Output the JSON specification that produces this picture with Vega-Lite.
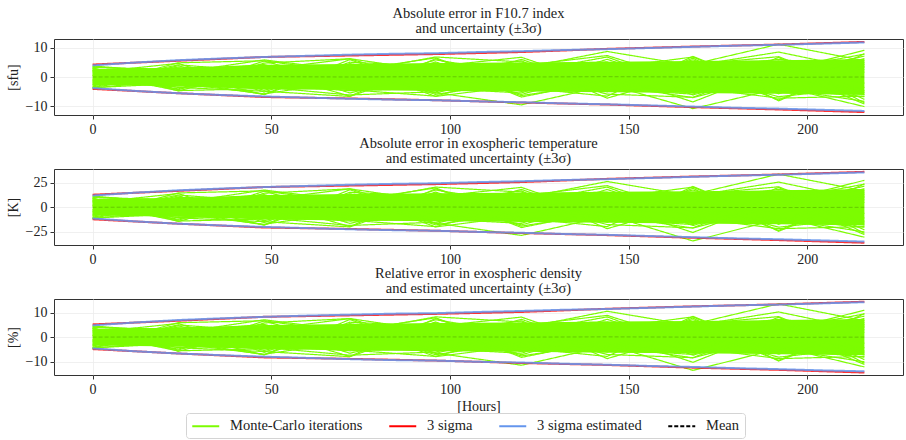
{
  "$schema": "https://vega.github.io/schema/vega-lite/v6.json",
  "padding": 5,
  "spacing": -2,
  "background": "white",
  "datasets": {
    "mc": [
      {"k":1,"h":0,"f":3.6,"t":10.8,"d":4.3},{"k":1,"h":24,"f":1.5,"t":4.5,"d":1.8},{"k":1,"h":48,"f":2.1,"t":6.3,"d":2.5},{"k":1,"h":72,"f":-3.0,"t":-9.0,"d":-3.6},{"k":1,"h":96,"f":5.9,"t":17.7,"d":7.1},{"k":1,"h":120,"f":1.2,"t":3.6,"d":1.4},{"k":1,"h":144,"f":-4.4,"t":-13.2,"d":-5.3},{"k":1,"h":168,"f":2.8,"t":8.4,"d":3.4},{"k":1,"h":192,"f":6.1,"t":18.3,"d":7.3},{"k":1,"h":216,"f":3.3,"t":9.9,"d":4.0},
      {"k":2,"h":0,"f":-3.7,"t":-11.1,"d":-4.4},{"k":2,"h":24,"f":-2.2,"t":-6.6,"d":-2.6},{"k":2,"h":48,"f":-5.8,"t":-17.4,"d":-7.0},{"k":2,"h":72,"f":-1.5,"t":-4.5,"d":-1.8},{"k":2,"h":96,"f":3.1,"t":9.3,"d":3.7},{"k":2,"h":120,"f":-6.4,"t":-19.2,"d":-7.7},{"k":2,"h":144,"f":-2.0,"t":-6.0,"d":-2.4},{"k":2,"h":168,"f":-5.5,"t":-16.5,"d":-6.6},{"k":2,"h":192,"f":-3.9,"t":-11.7,"d":-4.7},{"k":2,"h":216,"f":-8.4,"t":-25.2,"d":-10.1},
      {"k":3,"h":0,"f":2.9,"t":8.7,"d":3.5},{"k":3,"h":24,"f":-4.4,"t":-13.2,"d":-5.3},{"k":3,"h":48,"f":4.8,"t":14.4,"d":5.8},{"k":3,"h":72,"f":6.3,"t":18.9,"d":7.6},{"k":3,"h":96,"f":-2.6,"t":-7.8,"d":-3.1},{"k":3,"h":120,"f":3.9,"t":11.7,"d":4.7},{"k":3,"h":144,"f":7.4,"t":22.2,"d":8.9},{"k":3,"h":168,"f":-1.8,"t":-5.4,"d":-2.2},{"k":3,"h":192,"f":2.4,"t":7.2,"d":2.9},{"k":3,"h":216,"f":7.9,"t":23.7,"d":9.5},
      {"k":4,"h":0,"f":-2.5,"t":-7.5,"d":-3.0},{"k":4,"h":24,"f":3.1,"t":9.3,"d":3.7},{"k":4,"h":48,"f":-3.5,"t":-10.5,"d":-4.2},{"k":4,"h":72,"f":-6.2,"t":-18.6,"d":-7.4},{"k":4,"h":96,"f":-5.1,"t":-15.3,"d":-6.1},{"k":4,"h":120,"f":2.0,"t":6.0,"d":2.4},{"k":4,"h":144,"f":-5.9,"t":-17.7,"d":-7.1},{"k":4,"h":168,"f":-7.0,"t":-21.0,"d":-8.4},{"k":4,"h":192,"f":4.2,"t":12.6,"d":5.0},{"k":4,"h":216,"f":-2.1,"t":-6.3,"d":-2.5},
      {"k":5,"h":0,"f":3.8,"t":11.4,"d":4.6},{"k":5,"h":24,"f":1.5,"t":4.5,"d":1.8},{"k":5,"h":48,"f":5.9,"t":17.7,"d":7.1},{"k":5,"h":72,"f":2.2,"t":6.6,"d":2.6},{"k":5,"h":96,"f":6.6,"t":19.8,"d":7.9},{"k":5,"h":120,"f":-4.1,"t":-12.3,"d":-4.9},{"k":5,"h":144,"f":3.0,"t":9.0,"d":3.6},{"k":5,"h":168,"f":6.9,"t":20.7,"d":8.3},{"k":5,"h":192,"f":-5.8,"t":-17.4,"d":-7.0},{"k":5,"h":216,"f":5.0,"t":15.0,"d":6.0},
      {"k":6,"h":0,"f":-3.8,"t":-11.4,"d":-4.6},{"k":6,"h":24,"f":-0.9,"t":-2.7,"d":-1.1},{"k":6,"h":48,"f":0.8,"t":2.4,"d":1.0},{"k":6,"h":72,"f":4.0,"t":12.0,"d":4.8},{"k":6,"h":96,"f":-6.7,"t":-20.1,"d":-8.0},{"k":6,"h":120,"f":-3.0,"t":-9.0,"d":-3.6},{"k":6,"h":144,"f":6.1,"t":18.3,"d":7.3},{"k":6,"h":168,"f":-3.6,"t":-10.8,"d":-4.3},{"k":6,"h":192,"f":-7.3,"t":-21.9,"d":-8.8},{"k":6,"h":216,"f":-6.6,"t":-19.8,"d":-7.9},
      {"k":7,"h":0,"f":1.6,"t":4.8,"d":1.9},{"k":7,"h":24,"f":4.7,"t":14.1,"d":5.6},{"k":7,"h":48,"f":-5.2,"t":-15.6,"d":-6.2},{"k":7,"h":72,"f":5.1,"t":15.3,"d":6.1},{"k":7,"h":96,"f":3.7,"t":11.1,"d":4.4},{"k":7,"h":120,"f":6.8,"t":20.4,"d":8.2},{"k":7,"h":144,"f":-3.2,"t":-9.6,"d":-3.8},{"k":7,"h":168,"f":4.4,"t":13.2,"d":5.3},{"k":7,"h":192,"f":7.0,"t":21.0,"d":8.4},{"k":7,"h":216,"f":-4.8,"t":-14.4,"d":-5.8},
      {"k":8,"h":0,"f":-1.2,"t":-3.6,"d":-1.4},{"k":8,"h":24,"f":-3.5,"t":-10.5,"d":-4.2},{"k":8,"h":48,"f":-2.9,"t":-8.7,"d":-3.5},{"k":8,"h":72,"f":-4.7,"t":-14.1,"d":-5.6},{"k":8,"h":96,"f":-3.9,"t":-11.7,"d":-4.7},{"k":8,"h":120,"f":-5.5,"t":-16.5,"d":-6.6},{"k":8,"h":144,"f":4.6,"t":13.8,"d":5.5},{"k":8,"h":168,"f":-6.2,"t":-18.6,"d":-7.4},{"k":8,"h":192,"f":1.9,"t":5.7,"d":2.3},{"k":8,"h":216,"f":9.2,"t":27.6,"d":11.0},
      {"k":9,"h":0,"f":3.3,"t":9.9,"d":4.0},{"k":9,"h":24,"f":2.6,"t":7.8,"d":3.1},{"k":9,"h":48,"f":3.6,"t":10.8,"d":4.3},{"k":9,"h":72,"f":-5.5,"t":-16.5,"d":-6.6},{"k":9,"h":96,"f":1.4,"t":4.2,"d":1.7},{"k":9,"h":120,"f":5.6,"t":16.8,"d":6.7},{"k":9,"h":144,"f":-7.3,"t":-21.9,"d":-8.8},{"k":9,"h":168,"f":1.2,"t":3.6,"d":1.4},{"k":9,"h":192,"f":-6.8,"t":-20.4,"d":-8.2},{"k":9,"h":216,"f":-3.6,"t":-10.8,"d":-4.3},
      {"k":10,"h":0,"f":-3.1,"t":-9.3,"d":-3.7},{"k":10,"h":24,"f":3.9,"t":11.7,"d":4.7},{"k":10,"h":48,"f":-4.6,"t":-13.8,"d":-5.5},{"k":10,"h":72,"f":3.3,"t":9.9,"d":4.0},{"k":10,"h":96,"f":-6.0,"t":-18.0,"d":-7.2},{"k":10,"h":120,"f":-1.5,"t":-4.5,"d":-1.8},{"k":10,"h":144,"f":2.1,"t":6.3,"d":2.5},{"k":10,"h":168,"f":-4.8,"t":-14.4,"d":-5.8},{"k":10,"h":192,"f":5.5,"t":16.5,"d":6.6},{"k":10,"h":216,"f":-7.7,"t":-23.1,"d":-9.2},
      {"k":11,"h":0,"f":0.6,"t":1.8,"d":0.7},{"k":11,"h":24,"f":-4.1,"t":-12.3,"d":-4.9},{"k":11,"h":48,"f":5.5,"t":16.5,"d":6.6},{"k":11,"h":72,"f":-2.6,"t":-7.8,"d":-3.1},{"k":11,"h":96,"f":4.8,"t":14.4,"d":5.8},{"k":11,"h":120,"f":-6.9,"t":-20.7,"d":-8.3},{"k":11,"h":144,"f":-1.1,"t":-3.3,"d":-1.3},{"k":11,"h":168,"f":5.9,"t":17.7,"d":7.1},{"k":11,"h":192,"f":-2.7,"t":-8.1,"d":-3.2},{"k":11,"h":216,"f":6.4,"t":19.2,"d":7.7},
      {"k":12,"h":0,"f":2.4,"t":7.2,"d":2.9},{"k":12,"h":24,"f":-1.4,"t":-4.2,"d":-1.7},{"k":12,"h":48,"f":-6.0,"t":-18.0,"d":-7.2},{"k":12,"h":72,"f":6.0,"t":18.0,"d":7.2},{"k":12,"h":96,"f":-4.4,"t":-13.2,"d":-5.3},{"k":12,"h":120,"f":4.3,"t":12.9,"d":5.2},{"k":12,"h":144,"f":5.2,"t":15.6,"d":6.2},{"k":12,"h":168,"f":-2.9,"t":-8.7,"d":-3.5},{"k":12,"h":192,"f":3.4,"t":10.2,"d":4.1},{"k":12,"h":216,"f":-5.4,"t":-16.2,"d":-6.5},
      {"k":13,"h":0,"f":-2.0,"t":-6.0,"d":-2.4},{"k":13,"h":24,"f":4.2,"t":12.6,"d":5.0},{"k":13,"h":48,"f":1.9,"t":5.7,"d":2.3},{"k":13,"h":72,"f":-6.6,"t":-19.8,"d":-7.9},{"k":13,"h":96,"f":6.3,"t":18.9,"d":7.6},{"k":13,"h":120,"f":-3.7,"t":-11.1,"d":-4.4},{"k":13,"h":144,"f":-6.6,"t":-19.8,"d":-7.9},{"k":13,"h":168,"f":7.1,"t":21.3,"d":8.5},{"k":13,"h":192,"f":-4.6,"t":-13.8,"d":-5.5},{"k":13,"h":216,"f":1.7,"t":5.1,"d":2.0},
      {"k":14,"h":0,"f":3.0,"t":9.0,"d":3.6},{"k":14,"h":24,"f":-3.0,"t":-9.0,"d":-3.6},{"k":14,"h":48,"f":-1.6,"t":-4.8,"d":-1.9},{"k":14,"h":72,"f":1.0,"t":3.0,"d":1.2},{"k":14,"h":96,"f":-2.0,"t":-6.0,"d":-2.4},{"k":14,"h":120,"f":6.1,"t":18.3,"d":7.3},{"k":14,"h":144,"f":-4.1,"t":-12.3,"d":-4.9},{"k":14,"h":168,"f":-5.9,"t":-17.7,"d":-7.1},{"k":14,"h":192,"f":6.8,"t":20.4,"d":8.2},{"k":14,"h":216,"f":-8.9,"t":-26.7,"d":-10.7},
      {"k":15,"h":0,"f":-3.4,"t":-10.2,"d":-4.1},{"k":15,"h":24,"f":2.0,"t":6.0,"d":2.4},{"k":15,"h":48,"f":4.3,"t":12.9,"d":5.2},{"k":15,"h":72,"f":-3.9,"t":-11.7,"d":-4.7},{"k":15,"h":96,"f":5.2,"t":15.6,"d":6.2},{"k":15,"h":120,"f":-5.0,"t":-15.0,"d":-6.0},{"k":15,"h":144,"f":3.6,"t":10.8,"d":4.3},{"k":15,"h":168,"f":3.3,"t":9.9,"d":4.0},{"k":15,"h":192,"f":-7.9,"t":-23.7,"d":-9.5},{"k":15,"h":216,"f":4.4,"t":13.2,"d":5.3},
      {"k":16,"h":0,"f":1.1,"t":3.3,"d":1.3},{"k":16,"h":24,"f":-4.7,"t":-14.1,"d":-5.6},{"k":16,"h":48,"f":-4.0,"t":-12.0,"d":-4.8},{"k":16,"h":72,"f":4.6,"t":13.8,"d":5.5},{"k":16,"h":96,"f":-5.6,"t":-16.8,"d":-6.7},{"k":16,"h":120,"f":2.7,"t":8.1,"d":3.2},{"k":16,"h":144,"f":-2.7,"t":-8.1,"d":-3.2},{"k":16,"h":168,"f":-7.1,"t":-21.3,"d":-8.5},{"k":16,"h":192,"f":0.7,"t":2.1,"d":0.8},{"k":16,"h":216,"f":7.2,"t":21.6,"d":8.6},
      {"k":17,"h":0,"f":2.0,"t":6.0,"d":2.4},{"k":17,"h":24,"f":-1.8,"t":-5.4,"d":-2.2},{"k":17,"h":48,"f":3.2,"t":9.6,"d":3.8},{"k":17,"h":72,"f":-2.5,"t":-7.5,"d":-3.0},{"k":17,"h":96,"f":1.6,"t":4.8,"d":1.9},{"k":17,"h":120,"f":2.9,"t":8.7,"d":3.5},{"k":17,"h":144,"f":-3.5,"t":-10.5,"d":-4.2},{"k":17,"h":168,"f":4.4,"t":13.2,"d":5.3},{"k":17,"h":192,"f":11.3,"t":33.9,"d":13.6},{"k":17,"h":216,"f":5.6,"t":16.8,"d":6.7},
      {"k":18,"h":0,"f":-1.5,"t":-4.5,"d":-1.8},{"k":18,"h":24,"f":2.4,"t":7.2,"d":2.9},{"k":18,"h":48,"f":-2.2,"t":-6.6,"d":-2.6},{"k":18,"h":72,"f":1.8,"t":5.4,"d":2.2},{"k":18,"h":96,"f":-4.3,"t":-12.9,"d":-5.2},{"k":18,"h":120,"f":-3.3,"t":-9.9,"d":-4.0},{"k":18,"h":144,"f":-2.5,"t":-7.5,"d":-3.0},{"k":18,"h":168,"f":-10.9,"t":-34.5,"d":-13.6},{"k":18,"h":192,"f":-4.0,"t":-12.0,"d":-4.8},{"k":18,"h":216,"f":-6.8,"t":-20.4,"d":-8.2},
      {"k":19,"h":0,"f":0.5,"t":1.5,"d":0.6},{"k":19,"h":24,"f":1.9,"t":5.7,"d":2.3},{"k":19,"h":48,"f":-3.1,"t":-9.3,"d":-3.7},{"k":19,"h":72,"f":2.8,"t":8.4,"d":3.4},{"k":19,"h":96,"f":-5.4,"t":-16.2,"d":-6.5},{"k":19,"h":120,"f":-9.6,"t":-28.8,"d":-11.5},{"k":19,"h":144,"f":-3.0,"t":-9.0,"d":-3.6},{"k":19,"h":168,"f":2.5,"t":7.5,"d":3.0},{"k":19,"h":192,"f":-3.2,"t":-9.6,"d":-3.8},{"k":19,"h":216,"f":-10.2,"t":-30.6,"d":-12.2},
      {"k":20,"h":0,"f":-0.8,"t":-2.4,"d":-1.0},{"k":20,"h":24,"f":3.4,"t":10.2,"d":4.1},{"k":20,"h":48,"f":2.6,"t":7.8,"d":3.1},{"k":20,"h":72,"f":6.3,"t":18.9,"d":7.6},{"k":20,"h":96,"f":2.0,"t":6.0,"d":2.4},{"k":20,"h":120,"f":3.0,"t":9.0,"d":3.6},{"k":20,"h":144,"f":8.8,"t":26.4,"d":10.6},{"k":20,"h":168,"f":3.9,"t":11.7,"d":4.7},{"k":20,"h":192,"f":8.6,"t":25.8,"d":10.3},{"k":20,"h":216,"f":2.5,"t":7.5,"d":3.0},
      {"k":21,"h":0,"f":2.2,"t":6.6,"d":2.6},{"k":21,"h":24,"f":-3.6,"t":-10.8,"d":-4.3},{"k":21,"h":48,"f":-4.9,"t":-14.7,"d":-5.9},{"k":21,"h":72,"f":-6.7,"t":-20.1,"d":-8.0},{"k":21,"h":96,"f":3.5,"t":10.5,"d":4.2},{"k":21,"h":120,"f":-2.4,"t":-7.2,"d":-2.9},{"k":21,"h":144,"f":1.0,"t":3.0,"d":1.2},{"k":21,"h":168,"f":-8.6,"t":-25.8,"d":-10.3},{"k":21,"h":192,"f":2.9,"t":8.7,"d":3.5},{"k":21,"h":216,"f":-9.3,"t":-27.9,"d":-11.2},
      {"k":22,"h":0,"f":-2.8,"t":-8.4,"d":-3.4},{"k":22,"h":24,"f":4.9,"t":14.7,"d":5.9},{"k":22,"h":48,"f":5.6,"t":16.8,"d":6.7},{"k":22,"h":72,"f":1.5,"t":4.5,"d":1.8},{"k":22,"h":96,"f":6.9,"t":20.7,"d":8.3},{"k":22,"h":120,"f":5.2,"t":15.6,"d":6.2},{"k":22,"h":144,"f":-5.1,"t":-15.3,"d":-6.1},{"k":22,"h":168,"f":6.5,"t":19.5,"d":7.8},{"k":22,"h":192,"f":-8.2,"t":-24.6,"d":-9.8},{"k":22,"h":216,"f":3.8,"t":11.4,"d":4.6},
      {"k":23,"h":0,"f":3.2,"t":9.6,"d":3.8},{"k":23,"h":24,"f":-4.8,"t":-14.4,"d":-5.8},{"k":23,"h":48,"f":2.9,"t":8.7,"d":3.5},{"k":23,"h":72,"f":-4.4,"t":-13.2,"d":-5.3},{"k":23,"h":96,"f":-6.6,"t":-19.8,"d":-7.9},{"k":23,"h":120,"f":1.5,"t":4.5,"d":1.8},{"k":23,"h":144,"f":6.9,"t":20.7,"d":8.3},{"k":23,"h":168,"f":-4.0,"t":-12.0,"d":-4.8},{"k":23,"h":192,"f":5.0,"t":15.0,"d":6.0},{"k":23,"h":216,"f":-6.1,"t":-18.3,"d":-7.3},
      {"k":24,"h":0,"f":-3.6,"t":-10.8,"d":-4.3},{"k":24,"h":24,"f":1.0,"t":3.0,"d":1.2},{"k":24,"h":48,"f":-6.1,"t":-18.3,"d":-7.3},{"k":24,"h":72,"f":4.5,"t":13.5,"d":5.4},{"k":24,"h":96,"f":2.5,"t":7.5,"d":3.0},{"k":24,"h":120,"f":-6.0,"t":-18.0,"d":-7.2},{"k":24,"h":144,"f":1.8,"t":5.4,"d":2.2},{"k":24,"h":168,"f":3.8,"t":11.4,"d":4.6},{"k":24,"h":192,"f":-5.3,"t":-15.9,"d":-6.4},{"k":24,"h":216,"f":8.0,"t":24.0,"d":9.6}
    ],
    "core": [
      {"h":0,"fl":-2.8,"fu":2.8,"tl":-8.4,"tu":8.4,"dl":-3.4,"du":3.4},
      {"h":24,"fl":-3.2,"fu":3.2,"tl":-9.6,"tu":9.6,"dl":-3.8,"du":3.8},
      {"h":48,"fl":-4.2,"fu":4.2,"tl":-12.6,"tu":12.6,"dl":-5.0,"du":5.0},
      {"h":72,"fl":-4.5,"fu":4.5,"tl":-13.5,"tu":13.5,"dl":-5.4,"du":5.4},
      {"h":96,"fl":-4.8,"fu":4.8,"tl":-14.4,"tu":14.4,"dl":-5.8,"du":5.8},
      {"h":120,"fl":-5.0,"fu":5.0,"tl":-15.0,"tu":15.0,"dl":-6.0,"du":6.0},
      {"h":144,"fl":-5.3,"fu":5.3,"tl":-15.9,"tu":15.9,"dl":-6.4,"du":6.4},
      {"h":168,"fl":-5.5,"fu":5.5,"tl":-16.5,"tu":16.5,"dl":-6.6,"du":6.6},
      {"h":192,"fl":-5.8,"fu":5.8,"tl":-17.4,"tu":17.4,"dl":-7.0,"du":7.0},
      {"h":216,"fl":-6.2,"fu":6.2,"tl":-18.6,"tu":18.6,"dl":-7.4,"du":7.4}
    ],
    "sigma": [
      {"s":"3 sigma","side":"u","h":0,"f":4.3,"t":12.9,"d":5.2},{"s":"3 sigma","side":"u","h":24,"f":5.6,"t":16.8,"d":6.7},{"s":"3 sigma","side":"u","h":48,"f":6.9,"t":20.7,"d":8.3},{"s":"3 sigma","side":"u","h":72,"f":7.4,"t":22.2,"d":8.9},{"s":"3 sigma","side":"u","h":96,"f":7.9,"t":23.7,"d":9.5},{"s":"3 sigma","side":"u","h":120,"f":8.6,"t":25.8,"d":10.3},{"s":"3 sigma","side":"u","h":144,"f":9.7,"t":29.1,"d":11.6},{"s":"3 sigma","side":"u","h":168,"f":10.5,"t":31.5,"d":12.6},{"s":"3 sigma","side":"u","h":192,"f":11.2,"t":33.6,"d":13.4},{"s":"3 sigma","side":"u","h":216,"f":12.1,"t":36.3,"d":14.5},
      {"s":"3 sigma","side":"l","h":0,"f":-4.1,"t":-12.3,"d":-4.9},{"s":"3 sigma","side":"l","h":24,"f":-5.6,"t":-16.8,"d":-6.7},{"s":"3 sigma","side":"l","h":48,"f":-6.9,"t":-20.7,"d":-8.3},{"s":"3 sigma","side":"l","h":72,"f":-7.4,"t":-22.2,"d":-8.9},{"s":"3 sigma","side":"l","h":96,"f":-8.0,"t":-24.0,"d":-9.6},{"s":"3 sigma","side":"l","h":120,"f":-8.8,"t":-26.4,"d":-10.6},{"s":"3 sigma","side":"l","h":144,"f":-9.5,"t":-28.5,"d":-11.4},{"s":"3 sigma","side":"l","h":168,"f":-10.4,"t":-31.2,"d":-12.5},{"s":"3 sigma","side":"l","h":192,"f":-11.2,"t":-33.6,"d":-13.4},{"s":"3 sigma","side":"l","h":216,"f":-12.1,"t":-36.3,"d":-14.5},
      {"s":"3 sigma estimated","side":"u","h":0,"f":4.0,"t":12.0,"d":4.8},{"s":"3 sigma estimated","side":"u","h":12,"f":5.0,"t":15.0,"d":6.0},{"s":"3 sigma estimated","side":"u","h":24,"f":5.8,"t":17.4,"d":7.0},{"s":"3 sigma estimated","side":"u","h":36,"f":6.4,"t":19.2,"d":7.7},{"s":"3 sigma estimated","side":"u","h":48,"f":6.9,"t":20.7,"d":8.3},{"s":"3 sigma estimated","side":"u","h":60,"f":7.3,"t":21.9,"d":8.8},{"s":"3 sigma estimated","side":"u","h":72,"f":7.7,"t":23.1,"d":9.2},{"s":"3 sigma estimated","side":"u","h":84,"f":8.0,"t":24.0,"d":9.6},{"s":"3 sigma estimated","side":"u","h":96,"f":8.2,"t":24.6,"d":9.8},{"s":"3 sigma estimated","side":"u","h":108,"f":8.6,"t":25.8,"d":10.3},{"s":"3 sigma estimated","side":"u","h":120,"f":8.9,"t":26.7,"d":10.7},{"s":"3 sigma estimated","side":"u","h":132,"f":9.3,"t":27.9,"d":11.2},{"s":"3 sigma estimated","side":"u","h":144,"f":9.6,"t":28.8,"d":11.5},{"s":"3 sigma estimated","side":"u","h":156,"f":10.0,"t":30.0,"d":12.0},{"s":"3 sigma estimated","side":"u","h":168,"f":10.4,"t":31.2,"d":12.5},{"s":"3 sigma estimated","side":"u","h":180,"f":10.8,"t":32.4,"d":13.0},{"s":"3 sigma estimated","side":"u","h":192,"f":11.1,"t":33.3,"d":13.3},{"s":"3 sigma estimated","side":"u","h":204,"f":11.5,"t":34.5,"d":13.8},{"s":"3 sigma estimated","side":"u","h":216,"f":11.9,"t":35.7,"d":14.3},
      {"s":"3 sigma estimated","side":"l","h":0,"f":-3.8,"t":-11.4,"d":-4.6},{"s":"3 sigma estimated","side":"l","h":12,"f":-4.8,"t":-14.4,"d":-5.8},{"s":"3 sigma estimated","side":"l","h":24,"f":-5.6,"t":-16.8,"d":-6.7},{"s":"3 sigma estimated","side":"l","h":36,"f":-6.2,"t":-18.6,"d":-7.4},{"s":"3 sigma estimated","side":"l","h":48,"f":-6.7,"t":-20.1,"d":-8.0},{"s":"3 sigma estimated","side":"l","h":60,"f":-7.1,"t":-21.3,"d":-8.5},{"s":"3 sigma estimated","side":"l","h":72,"f":-7.5,"t":-22.5,"d":-9.0},{"s":"3 sigma estimated","side":"l","h":84,"f":-7.8,"t":-23.4,"d":-9.4},{"s":"3 sigma estimated","side":"l","h":96,"f":-8.0,"t":-24.0,"d":-9.6},{"s":"3 sigma estimated","side":"l","h":108,"f":-8.4,"t":-25.2,"d":-10.1},{"s":"3 sigma estimated","side":"l","h":120,"f":-8.7,"t":-26.1,"d":-10.4},{"s":"3 sigma estimated","side":"l","h":132,"f":-9.1,"t":-27.3,"d":-10.9},{"s":"3 sigma estimated","side":"l","h":144,"f":-9.4,"t":-28.2,"d":-11.3},{"s":"3 sigma estimated","side":"l","h":156,"f":-9.8,"t":-29.4,"d":-11.8},{"s":"3 sigma estimated","side":"l","h":168,"f":-10.2,"t":-30.6,"d":-12.2},{"s":"3 sigma estimated","side":"l","h":180,"f":-10.6,"t":-31.8,"d":-12.7},{"s":"3 sigma estimated","side":"l","h":192,"f":-10.9,"t":-32.7,"d":-13.1},{"s":"3 sigma estimated","side":"l","h":204,"f":-11.3,"t":-33.9,"d":-13.6},{"s":"3 sigma estimated","side":"l","h":216,"f":-11.7,"t":-35.1,"d":-14.0}
    ],
    "mean": [
      {"h":0,"f":0.0,"t":0.0,"d":0.0},{"h":24,"f":0.1,"t":0.3,"d":0.1},{"h":48,"f":0.1,"t":0.3,"d":0.1},{"h":72,"f":0.0,"t":0.0,"d":0.0},{"h":96,"f":0.1,"t":0.3,"d":0.1},{"h":120,"f":0.0,"t":0.0,"d":0.0},{"h":144,"f":0.1,"t":0.3,"d":0.1},{"h":168,"f":0.0,"t":0.0,"d":0.0},{"h":192,"f":-0.1,"t":-0.3,"d":-0.1},{"h":216,"f":0.0,"t":0.0,"d":0.0}
    ]
  },
  "vconcat": [
    {
      "width": 849, "height": 76,
      "title": {"text": ["Absolute error in F10.7 index", "and uncertainty (±3σ)"]},
      "encoding": {"x": {"field": "h", "type": "quantitative", "scale": {"domain": [-10.8, 226.8], "nice": false, "zero": false}, "axis": {"values": [0, 50, 100, 150, 200], "tickCount": 10, "title": null}}},
      "layer": [
        {"data": {"name": "core"}, "mark": {"type": "area", "color": "#7CFC00"},
         "encoding": {"y": {"field": "fl", "type": "quantitative", "scale": {"domain": [-13.1, 13.1], "nice": false, "zero": false}, "axis": {"values": [-10, 0, 10], "tickCount": 5, "title": "[sfu]"}}, "y2": {"field": "fu"}}},
        {"data": {"name": "mc"}, "mark": {"type": "line", "strokeWidth": 1.2},
         "encoding": {"y": {"field": "f", "type": "quantitative"}, "detail": {"field": "k"},
           "color": {"datum": "Monte-Carlo iterations", "type": "nominal", "scale": {"domain": ["Monte-Carlo iterations", "3 sigma", "3 sigma estimated", "Mean"], "range": ["#7CFC00", "#FF0000", "#6495ED", "#000000"]}, "legend": {"title": null}},
           "strokeDash": {"datum": "Monte-Carlo iterations", "type": "nominal", "scale": {"domain": ["Monte-Carlo iterations", "3 sigma", "3 sigma estimated", "Mean"], "range": [[1, 0], [1, 0], [1, 0], [4, 2]]}, "legend": {"title": null}}}},
        {"data": {"name": "sigma"}, "transform": [{"filter": "datum.s === '3 sigma'"}], "mark": {"type": "line", "strokeWidth": 2, "strokeOpacity": 0.8},
         "encoding": {"y": {"field": "f", "type": "quantitative"}, "detail": {"field": "side"},
           "color": {"field": "s", "type": "nominal", "legend": {"title": null}},
           "strokeDash": {"field": "s", "type": "nominal", "legend": {"title": null}}}},
        {"data": {"name": "sigma"}, "transform": [{"filter": "datum.s === '3 sigma estimated'"}], "mark": {"type": "line", "strokeWidth": 2, "strokeOpacity": 0.85},
         "encoding": {"y": {"field": "f", "type": "quantitative"}, "detail": {"field": "side"},
           "color": {"field": "s", "type": "nominal", "legend": {"title": null}},
           "strokeDash": {"field": "s", "type": "nominal", "legend": {"title": null}}}},
        {"data": {"name": "mean"}, "mark": {"type": "line", "strokeWidth": 1, "strokeOpacity": 0.2},
         "encoding": {"y": {"field": "f", "type": "quantitative"},
           "color": {"datum": "Mean", "type": "nominal", "legend": {"title": null}},
           "strokeDash": {"datum": "Mean", "type": "nominal", "legend": {"title": null}}}}
      ]
    },
    {
      "width": 849, "height": 76,
      "title": {"text": ["Absolute error in exospheric temperature", "and estimated uncertainty (±3σ)"]},
      "encoding": {"x": {"field": "h", "type": "quantitative", "scale": {"domain": [-10.8, 226.8], "nice": false, "zero": false}, "axis": {"values": [0, 50, 100, 150, 200], "tickCount": 10, "title": null}}},
      "layer": [
        {"data": {"name": "core"}, "mark": {"type": "area", "color": "#7CFC00"},
         "encoding": {"y": {"field": "tl", "type": "quantitative", "scale": {"domain": [-38.6, 39.2], "nice": false, "zero": false}, "axis": {"values": [-25, 0, 25], "tickCount": 5, "title": "[K]"}}, "y2": {"field": "tu"}}},
        {"data": {"name": "mc"}, "mark": {"type": "line", "strokeWidth": 1.2},
         "encoding": {"y": {"field": "t", "type": "quantitative"}, "detail": {"field": "k"},
           "color": {"datum": "Monte-Carlo iterations", "type": "nominal", "legend": {"title": null}},
           "strokeDash": {"datum": "Monte-Carlo iterations", "type": "nominal", "legend": {"title": null}}}},
        {"data": {"name": "sigma"}, "transform": [{"filter": "datum.s === '3 sigma'"}], "mark": {"type": "line", "strokeWidth": 2, "strokeOpacity": 0.8},
         "encoding": {"y": {"field": "t", "type": "quantitative"}, "detail": {"field": "side"},
           "color": {"field": "s", "type": "nominal", "legend": {"title": null}},
           "strokeDash": {"field": "s", "type": "nominal", "legend": {"title": null}}}},
        {"data": {"name": "sigma"}, "transform": [{"filter": "datum.s === '3 sigma estimated'"}], "mark": {"type": "line", "strokeWidth": 2, "strokeOpacity": 0.85},
         "encoding": {"y": {"field": "t", "type": "quantitative"}, "detail": {"field": "side"},
           "color": {"field": "s", "type": "nominal", "legend": {"title": null}},
           "strokeDash": {"field": "s", "type": "nominal", "legend": {"title": null}}}},
        {"data": {"name": "mean"}, "mark": {"type": "line", "strokeWidth": 1, "strokeOpacity": 0.2},
         "encoding": {"y": {"field": "t", "type": "quantitative"},
           "color": {"datum": "Mean", "type": "nominal", "legend": {"title": null}},
           "strokeDash": {"datum": "Mean", "type": "nominal", "legend": {"title": null}}}}
      ]
    },
    {
      "width": 849, "height": 76,
      "title": {"text": ["Relative error in exospheric density", "and estimated uncertainty (±3σ)"]},
      "encoding": {"x": {"field": "h", "type": "quantitative", "scale": {"domain": [-10.8, 226.8], "nice": false, "zero": false}, "axis": {"values": [0, 50, 100, 150, 200], "tickCount": 10, "title": "[Hours]"}}},
      "layer": [
        {"data": {"name": "core"}, "mark": {"type": "area", "color": "#7CFC00"},
         "encoding": {"y": {"field": "dl", "type": "quantitative", "scale": {"domain": [-15.5, 15.6], "nice": false, "zero": false}, "axis": {"values": [-10, 0, 10], "tickCount": 5, "title": "[%]"}}, "y2": {"field": "du"}}},
        {"data": {"name": "mc"}, "mark": {"type": "line", "strokeWidth": 1.2},
         "encoding": {"y": {"field": "d", "type": "quantitative"}, "detail": {"field": "k"},
           "color": {"datum": "Monte-Carlo iterations", "type": "nominal", "legend": {"title": null}},
           "strokeDash": {"datum": "Monte-Carlo iterations", "type": "nominal", "legend": {"title": null}}}},
        {"data": {"name": "sigma"}, "transform": [{"filter": "datum.s === '3 sigma'"}], "mark": {"type": "line", "strokeWidth": 2, "strokeOpacity": 0.8},
         "encoding": {"y": {"field": "d", "type": "quantitative"}, "detail": {"field": "side"},
           "color": {"field": "s", "type": "nominal", "legend": {"title": null}},
           "strokeDash": {"field": "s", "type": "nominal", "legend": {"title": null}}}},
        {"data": {"name": "sigma"}, "transform": [{"filter": "datum.s === '3 sigma estimated'"}], "mark": {"type": "line", "strokeWidth": 2, "strokeOpacity": 0.85},
         "encoding": {"y": {"field": "d", "type": "quantitative"}, "detail": {"field": "side"},
           "color": {"field": "s", "type": "nominal", "legend": {"title": null}},
           "strokeDash": {"field": "s", "type": "nominal", "legend": {"title": null}}}},
        {"data": {"name": "mean"}, "mark": {"type": "line", "strokeWidth": 1, "strokeOpacity": 0.2},
         "encoding": {"y": {"field": "d", "type": "quantitative"},
           "color": {"datum": "Mean", "type": "nominal", "legend": {"title": null}},
           "strokeDash": {"datum": "Mean", "type": "nominal", "legend": {"title": null}}}}
      ]
    }
  ],
  "resolve": {"scale": {"color": "shared", "strokeDash": "shared"}},
  "config": {
    "font": "Liberation Serif",
    "view": {"stroke": "#333333", "strokeWidth": 1},
    "title": {"font": "Liberation Serif", "fontSize": 14.5, "fontWeight": "normal", "color": "#222222", "anchor": "middle", "offset": 1, "lineHeight": 15},
    "axis": {"domain": false, "labelFont": "Liberation Serif", "labelFontSize": 14, "labelColor": "#222222", "tickColor": "#333333", "tickSize": 4, "labelPadding": 3, "gridColor": "#ececec", "gridWidth": 0.8, "titleFont": "Liberation Serif", "titleFontSize": 14, "titleFontWeight": "normal", "titleColor": "#222222"},
    "axisY": {"titlePadding": 5},
    "axisX": {"titlePadding": 3},
    "legend": {"orient": "none", "legendX": 132, "legendY": 374, "direction": "horizontal", "symbolType": "M-1,0H3", "symbolSize": 182, "symbolStrokeWidth": 2, "symbolOpacity": 1, "labelFont": "Liberation Serif", "labelFontSize": 14.5, "labelColor": "#222222", "labelOffset": 23, "columnPadding": 22, "padding": 5, "strokeColor": "#d4d4d4", "fillColor": "white", "cornerRadius": 3}
  }
}
